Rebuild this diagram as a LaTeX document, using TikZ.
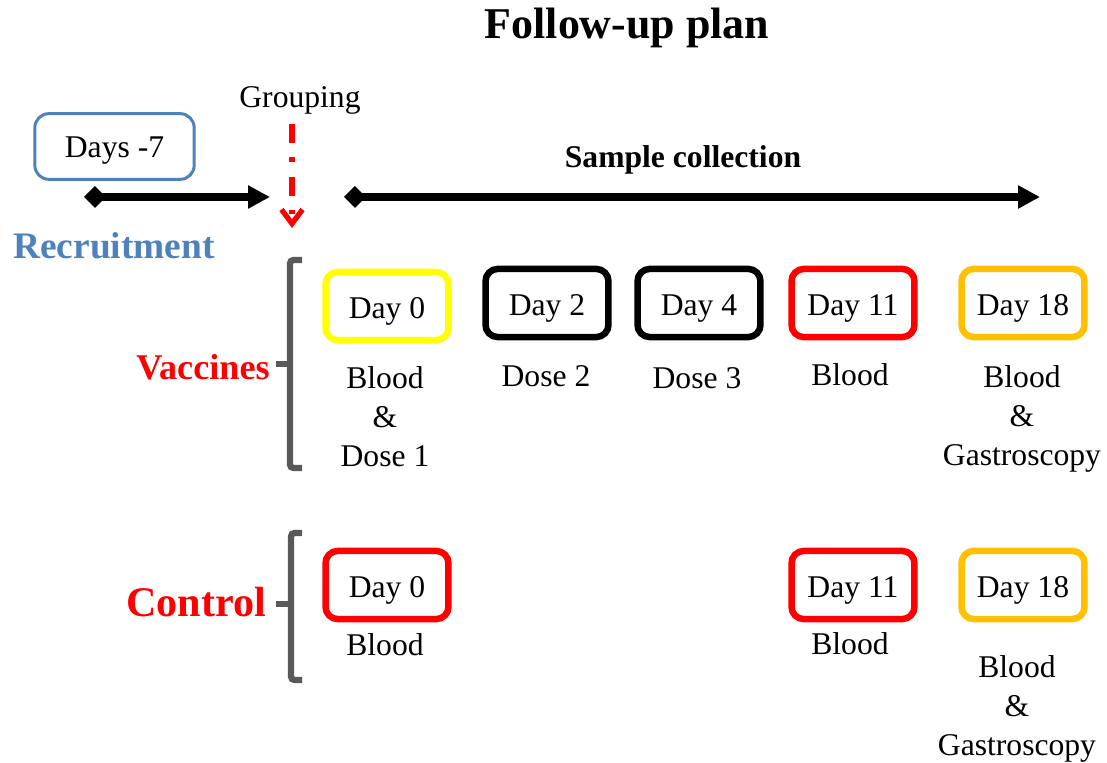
\documentclass[tikz,border=0pt]{standalone}
\usepackage{fontspec}
\setmainfont{Liberation Serif}
\usetikzlibrary{arrows.meta}
\definecolor{recblue}{HTML}{4F81BD}
\definecolor{dayorange}{HTML}{FFC000}
\definecolor{dayyellow}{HTML}{FFFF00}
\definecolor{bracegray}{HTML}{595959}
\begin{document}
\begin{tikzpicture}[x=0.02cm,y=-0.02cm,
  daybox/.style={draw, rounded corners=7pt, line width=3.7pt, minimum width=70pt,
    minimum height=38.8pt, inner sep=0pt, text height=14.8pt, text depth=0pt,
    font=\fontsize{18}{22}\selectfont},
  lbl/.style={align=center, inner sep=0pt, font=\fontsize{18}{22.1}\selectfont},
  head/.style={inner sep=0pt, font=\bfseries\fontsize{#1}{#1}\selectfont},
  timeline/.style={line width=4.5pt, {Diamond[length=12.5pt,width=12.5pt]}-{Triangle[length=12.5pt,width=12.5pt]}},
  brace/.style={draw=bracegray, line width=3.6pt, rounded corners=2pt}]
\useasboundingbox (0,0) rectangle (1107,763);

% headings
\node[head=25] (title) at (627,28) {Follow-up plan};
\node[lbl] (grouping) at (300,100) {Grouping};
\node[head=18] (sample) at (683,160) {Sample collection};
\node[head=21.3, text=recblue] (recruit) at (114,246) {Recruitment};
\node[head=20.6, text=red] (vacc) at (203,367) {Vaccines};
\node[head=24, text=red] (ctrl) at (196,602) {Control};

% recruitment window
\node[draw=recblue, rounded corners=8pt, line width=1.7pt, minimum width=90.7pt,
  minimum height=37.4pt, inner sep=0pt, text height=12pt, text depth=0pt,
  font=\fontsize{18}{22}\selectfont]
  (dm7) at (114.5,146.5) {Days -7};

% time lines
\coordinate (r0) at (84,197);
\coordinate (r1) at (270,197);
\coordinate (s0) at (344,197);
\coordinate (s1) at (1040,197);
\draw[timeline] (r0) -- (r1);
\draw[timeline] (s0) -- (s1);

% grouping marker
\coordinate (g0) at (292,124);
\coordinate (g1) at (292,228);
\draw[red, line width=3.2pt, dash pattern=on 10.8pt off 7.9pt on 2.8pt off 8.5pt,
  -{Straight Barb[length=8pt,width=12pt,line width=3pt]}] (g0) -- (g1);

% brackets
\draw[brace] (302,260) -- (290,260) -- (290,468) -- (302,468);
\draw[brace] (290,364) -- (276,364);
\draw[brace] (302,533) -- (291,533) -- (291,680) -- (302,680);
\draw[brace] (291,604) -- (276,604);

% vaccine group
\node[daybox, draw=dayyellow] (v0) at (387,306) {Day 0};
\node[daybox, draw=black] (v2) at (547,303) {Day 2};
\node[daybox, draw=black] (v4) at (699,303) {Day 4};
\node[daybox, draw=red] (v11) at (853,303) {Day 11};
\node[daybox, draw=dayorange] (v18) at (1023,303) {Day 18};

\node[lbl] (lv0) at (385,417) {Blood\\\&\\Dose 1};
\node[lbl] (lv2) at (546,376) {Dose 2};
\node[lbl] (lv4) at (697,378) {Dose 3};
\node[lbl] (lv11) at (850,375) {Blood};
\node[lbl] (lv18) at (1022,419) {Blood\\\&\\Gastroscopy};

% control group
\node[daybox, draw=red] (c0) at (387,585) {Day 0};
\node[daybox, draw=red] (c11) at (853,585) {Day 11};
\node[daybox, draw=dayorange] (c18) at (1023,585) {Day 18};

\node[lbl] (lc0) at (385,645) {Blood};
\node[lbl] (lc11) at (850,644) {Blood};
\node[lbl] (lc18) at (1017,709) {Blood\\\&\\Gastroscopy};
\end{tikzpicture}
\end{document}
